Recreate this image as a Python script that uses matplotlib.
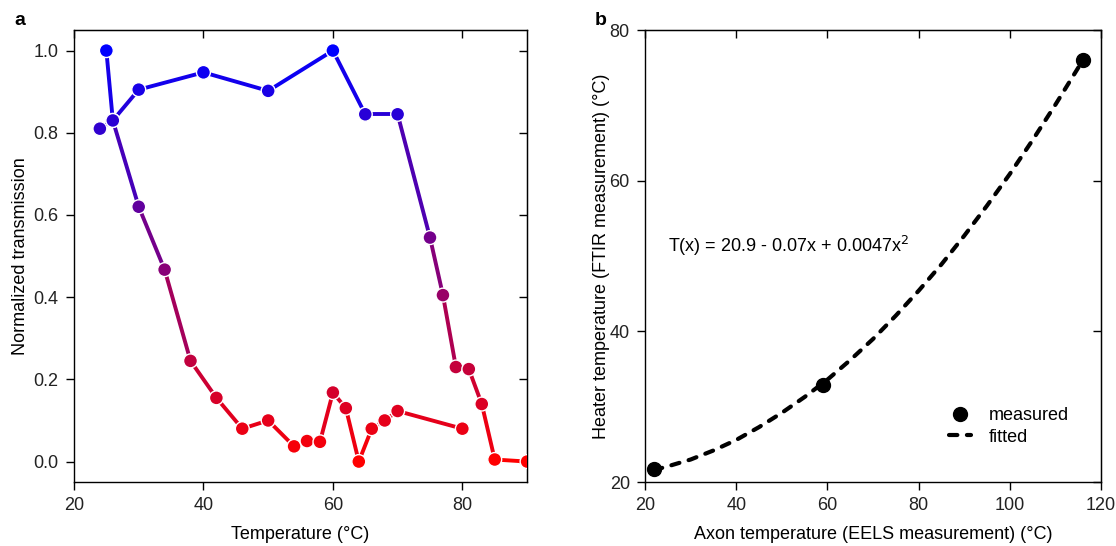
import numpy as np
import matplotlib
matplotlib.use("Agg")
import matplotlib.pyplot as plt
from matplotlib.collections import LineCollection

plt.rcParams['font.family'] = ['Liberation Sans', 'DejaVu Sans']
plt.rcParams['font.size'] = 13

# panel a: two sweeps of normalized transmission vs temperature
temp_up = [24, 26, 30, 40, 50, 60, 65, 70, 75, 77, 79, 81, 83, 85, 90]
trans_up = [0.81, 0.83, 0.905, 0.947, 0.902, 1.0, 0.845, 0.845, 0.545, 0.405,
            0.23, 0.225, 0.14, 0.005, 0.0]
temp_down = [25, 26, 30, 34, 38, 42, 46, 50, 54, 56, 58, 60, 62, 64, 66, 68, 70, 80]
trans_down = [1.0, 0.83, 0.62, 0.467, 0.245, 0.155, 0.08, 0.10, 0.037, 0.05, 0.048,
              0.168, 0.13, 0.0, 0.08, 0.10, 0.123, 0.08]

# panel b: calibration
axon_meas = [22, 59, 116]
heater_meas = [21.8, 32.9, 76.0]
axon_fit = [22, 25, 30, 35, 40, 45, 50, 55, 60, 65, 70, 75, 80, 85, 90, 95,
            100, 105, 110, 115, 116]
heater_fit = [21.6, 22.1, 23.0, 24.2, 25.6, 27.3, 29.2, 31.3, 33.6, 36.2, 39.0,
              42.1, 45.4, 48.9, 52.7, 56.7, 60.9, 65.4, 70.1, 75.0, 76.0]
fit_label = "T(x) = 20.9 - 0.07x + 0.0047x$^2$"


def value_color(v):
    """blue at 1, red at 0"""
    v = min(max(v, 0), 1)
    return (1 - v, 0, v)


def style_axes(ax, xticks, yticks):
    for s in ax.spines.values():
        s.set_linewidth(1.0)
    ax.set_xticks(xticks)
    ax.set_yticks(yticks)
    ax.tick_params(direction='out', length=6, width=1, pad=5, labelsize=13,
                   labelcolor='#222222')
    top = ax.secondary_xaxis('top')
    top.set_xticks(xticks)
    top.tick_params(direction='in', length=6, width=1, labeltop=False)
    right = ax.secondary_yaxis('right')
    right.set_yticks(yticks)
    right.tick_params(direction='in', length=6, width=1, labelright=False)


def draw_sweep(ax, x, y):
    segs = [[(x[i], y[i]), (x[i + 1], y[i + 1])] for i in range(len(x) - 1)]
    cols = [value_color((y[i] + y[i + 1]) / 2) for i in range(len(x) - 1)]
    ax.add_collection(LineCollection(segs, colors=cols, linewidths=2.8, zorder=2))
    ax.scatter(x, y, c=[value_color(v) for v in y], s=100, edgecolors='white',
               linewidths=1.0, zorder=3)


fig = plt.figure(figsize=(11.16, 5.46), dpi=100)
ax1 = fig.add_axes([0.0663, 0.117, 0.406, 0.828])
ax2 = fig.add_axes([0.578, 0.117, 0.4086, 0.828])

draw_sweep(ax1, temp_down, trans_down)
draw_sweep(ax1, temp_up, trans_up)
ax1.set_xlim(20, 90)
ax1.set_ylim(-0.05, 1.05)
style_axes(ax1, [20, 40, 60, 80], [0.0, 0.2, 0.4, 0.6, 0.8, 1.0])
ax1.set_xlabel("Temperature (°C)", fontsize=13, labelpad=8)
ax1.set_ylabel("Normalized transmission", fontsize=13, labelpad=3)

ax2.plot(axon_fit, heater_fit, color='black', lw=3.0, linestyle=(0, (2.0, 2.3)),
         dash_capstyle='round', label='fitted', zorder=2)
ax2.plot(axon_meas, heater_meas, 'o', color='black', ms=10, label='measured', zorder=3)
ax2.set_xlim(20, 120)
ax2.set_ylim(20, 80)
style_axes(ax2, [20, 40, 60, 80, 100, 120], [20, 40, 60, 80])
ax2.set_xlabel("Axon temperature (EELS measurement) (°C)", fontsize=13, labelpad=8)
ax2.set_ylabel("Heater temperature (FTIR measurement) (°C)", fontsize=13, labelpad=0)
ax2.text(25, 51.3, fit_label, fontsize=13, va='center', ha='left')
h, l = ax2.get_legend_handles_labels()
ax2.legend(h[::-1], l[::-1], loc='lower right', bbox_to_anchor=(0.965, 0.045),
           frameon=False, fontsize=13, handlelength=1.2, handletextpad=1.0,
           labelspacing=0.25)

fig.text(0.013, 0.962, "a", fontsize=14, fontweight='bold', va='center')
fig.text(0.533, 0.962, "b", fontsize=14, fontweight='bold', va='center')

fig.savefig("out.png", dpi=100)
